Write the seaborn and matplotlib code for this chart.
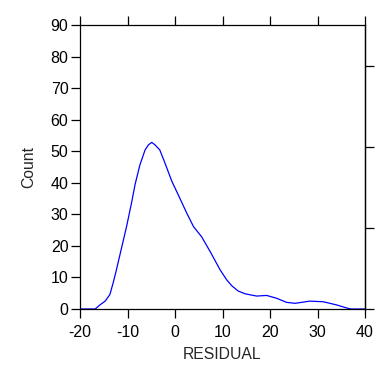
import numpy as np
import pandas as pd
import matplotlib
matplotlib.use("Agg")
import matplotlib.pyplot as plt
import seaborn as sns

# density curve of the residuals, scaled to counts
residual = [-20.0, -16.8, -15.8, -14.7, -13.7, -13.0, -12.4, -11.2, -10.2, -9.1,
            -8.4, -7.4, -6.3, -5.6, -4.9, -4.2, -3.2, -2.1, -0.7, 1.05, 2.5,
            3.9, 5.6, 7.4, 9.5, 10.9, 12.0, 13.3, 14.8, 17.2, 19.3, 21.4, 23.5,
            25.3, 28.4, 31.2, 34.0, 36.2, 37.0, 40.0]
count = [0.0, 0.0, 1.3, 2.5, 4.6, 8.4, 12.0, 19.7, 26.1, 34.0,
         39.5, 45.6, 50.4, 52.0, 52.8, 52.0, 50.4, 46.2, 40.6, 35.0, 30.3,
         26.1, 22.9, 18.2, 12.4, 9.2, 7.3, 5.7, 4.8, 4.1, 4.3, 3.4, 2.1,
         1.8, 2.5, 2.3, 1.3, 0.3, 0.0, 0.0]

x_ticks = [-20, -10, 0, 10, 20, 30, 40]
y_ticks = [0, 10, 20, 30, 40, 50, 60, 70, 80, 90]
right_ticks = [0, 25.6, 51.3, 76.9]

df = pd.DataFrame({"RESIDUAL": residual, "Count": count})

sns.set_style("white")
plt.rcParams["font.family"] = ["Liberation Sans", "DejaVu Sans"]
plt.rcParams["axes.unicode_minus"] = False

fig = plt.figure(figsize=(3.77, 3.84), dpi=100)
ax = fig.add_axes([80 / 377, 1 - 309 / 384, 285 / 377, 284 / 384])

sns.lineplot(data=df, x="RESIDUAL", y="Count", ax=ax, color="#0000ff", linewidth=0.9)

ax.set_xlim(-20, 40)
ax.set_ylim(0, 90)
ax.set_xticks(x_ticks)
ax.set_yticks(y_ticks)
ax.tick_params(axis="both", direction="out", length=6.3, width=0.9, color="black",
               labelsize=11.5, labelcolor="black")
ax.tick_params(axis="y", pad=2)
ax.tick_params(axis="x", pad=5, top=True, bottom=True, labeltop=False)
ax.set_xlabel("RESIDUAL", fontsize=11.3, labelpad=5)
ax.set_ylabel("Count", fontsize=11.3, labelpad=10)

for side in ["left", "bottom", "top", "right"]:
    ax.spines[side].set_visible(True)
    ax.spines[side].set_color("black")
    ax.spines[side].set_linewidth(0.9)

ax2 = ax.twinx()
ax2.set_ylim(0, 90)
ax2.set_yticks(right_ticks)
ax2.set_yticklabels([])
ax2.tick_params(axis="y", direction="out", length=6.3, width=0.9, color="black")
for side in ["left", "bottom", "top"]:
    ax2.spines[side].set_visible(False)
ax2.spines["right"].set_color("black")
ax2.spines["right"].set_linewidth(0.9)

fig.savefig("out.png", dpi=100)
